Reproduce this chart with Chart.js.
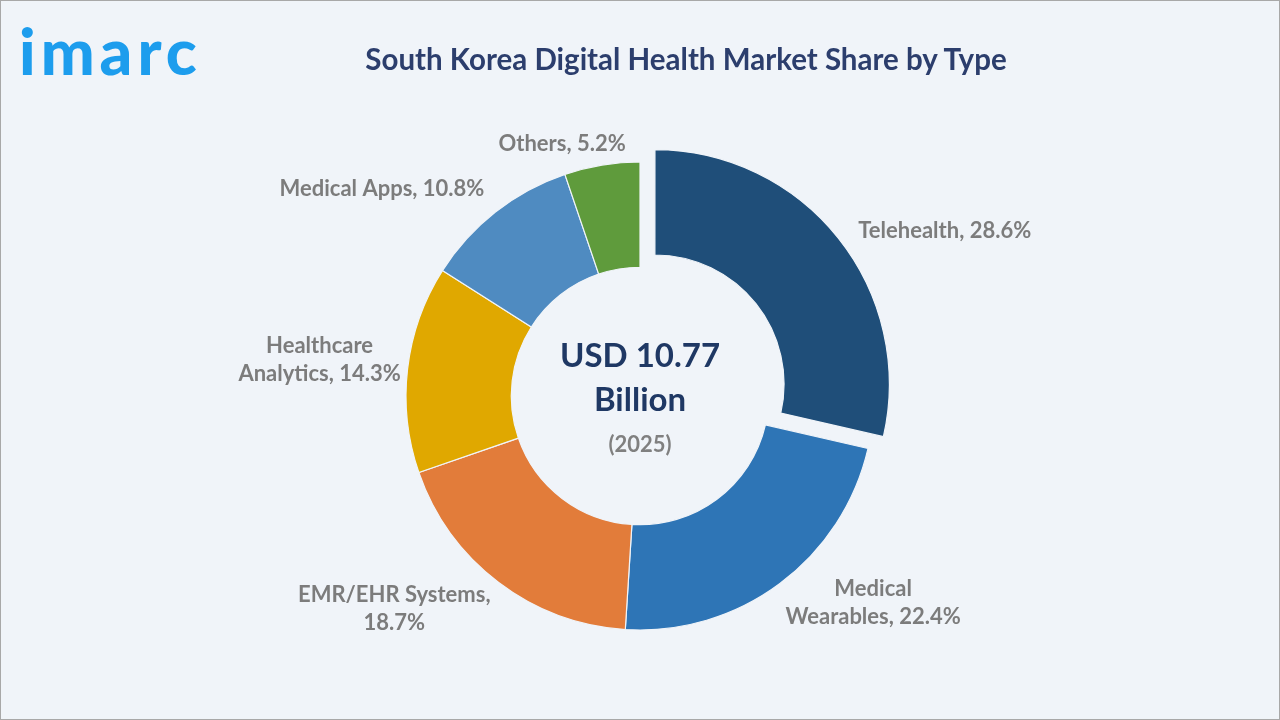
<!DOCTYPE html>
<html>
<head>
<meta charset="utf-8">
<script src="https://cdn.jsdelivr.net/npm/chart.js@4.4.1/dist/chart.umd.min.js"></script>
<style>
  html, body { margin:0; padding:0; width:1280px; height:720px; overflow:hidden; background:#f0f4f9; }
  #c { position:absolute; left:0; top:0; }
  #frame { position:absolute; left:0; top:0; width:1280px; height:720px; box-sizing:border-box; border:1px solid #a8a8a8; pointer-events:none; }
  #logo { position:absolute; left:19px; top:19px; font-family:Lato, "Open Sans", sans-serif; font-weight:900; font-size:64px; line-height:63px; letter-spacing:5px; color:#1d9ded; }
  #title { position:absolute; left:686px; top:42px; transform:translateX(-50%); white-space:nowrap; font-family:Lato, "Open Sans", sans-serif; font-weight:700; font-size:29.5px; line-height:34px; color:#2c3e6d; }
</style>
</head>
<body>
<canvas id="c" width="1280" height="720"></canvas>
<div id="logo">imarc</div>
<div id="title">South Korea Digital Health Market Share by Type</div>
<div id="frame"></div>
<script>
// ---- data ----
const categories = ["Telehealth", "Medical Wearables", "EMR/EHR Systems", "Healthcare Analytics", "Medical Apps", "Others"];
const shares = [28.6, 22.4, 18.7, 14.3, 10.8, 5.2];
const sliceColors = ["#1f4e79", "#2e75b6", "#e27c3a", "#e0a800", "#4f8bc1", "#5f9b3c"];
const explode = [76, 0, 0, 0, 0, 0];          // Chart.js arc offset (px*4)
const wrapAfterWords = [0, 1, 2, 1, 0, 0];     // line break position in label (0 = none)
const centerText = ["USD 10.77", "Billion", "(2025)"];

// ---- label styling ----
const labelGap = 26;
const labelNudge = [[0, 9], [-10, -2], [8, 6], [19, -6], [5, -3], [28, 4]];
const labelFont = "700 22px Lato, 'Open Sans', sans-serif";
const labelColor = "#7c7c7c";
const labelLineH = 28;

function labelLines(i) {
  const text = categories[i] + ", " + shares[i].toFixed(1) + "%";
  const n = wrapAfterWords[i];
  if (!n) return [text];
  const w = text.split(" ");
  return [w.slice(0, n).join(" "), w.slice(n).join(" ")];
}

const labelsPlugin = {
  id: "sliceLabels",
  afterDatasetsDraw(chart) {
    const ctx = chart.ctx;
    const meta = chart.getDatasetMeta(0);
    ctx.save();
    ctx.font = labelFont;
    ctx.fillStyle = labelColor;
    ctx.textBaseline = "middle";
    ctx.textAlign = "center";
    meta.data.forEach((arc, i) => {
      const mid = (arc.startAngle + arc.endAngle) / 2;
      const off = (arc.options.offset || 0) / 4;
      const cx = arc.x + Math.cos(mid) * off;
      const cy = arc.y + Math.sin(mid) * off;
      const r = arc.outerRadius + labelGap;
      const ax = cx + Math.cos(mid) * r + labelNudge[i][0];
      const ay = cy + Math.sin(mid) * r + labelNudge[i][1];
      const lines = labelLines(i);
      const bw = Math.max(...lines.map(l => ctx.measureText(l).width));
      const dx = Math.cos(mid);
      const bx = dx > 0.2 ? ax + bw / 2 : ax - bw / 2;
      const top = ay - (lines.length - 1) * labelLineH / 2;
      lines.forEach((l, k) => ctx.fillText(l, bx, top + k * labelLineH));
    });
    ctx.restore();
  }
};

const centerPlugin = {
  id: "centerText",
  afterDatasetsDraw(chart) {
    const ctx = chart.ctx;
    const a = chart.chartArea;
    const x = (a.left + a.right) / 2, y = (a.top + a.bottom) / 2;
    ctx.save();
    ctx.textAlign = "center";
    ctx.textBaseline = "middle";
    ctx.fillStyle = "#1f3864";
    ctx.font = "700 33px Lato, 'Open Sans', sans-serif";
    ctx.fillText(centerText[0], x, y - 40);
    ctx.fillText(centerText[1], x, y + 4);
    ctx.fillStyle = "#808080";
    ctx.font = "700 22px Lato, 'Open Sans', sans-serif";
    ctx.fillText(centerText[2], x, y + 49);
    ctx.restore();
  }
};

new Chart(document.getElementById("c"), {
  type: "doughnut",
  data: {
    labels: categories,
    datasets: [{
      data: shares,
      backgroundColor: sliceColors,
      borderColor: "#f0f4f9",
      borderWidth: 1.2,
      offset: explode,
      hoverOffset: 0
    }]
  },
  options: {
    responsive: false,
    devicePixelRatio: 1,
    animation: false,
    events: [],
    radius: 234,
    cutout: "55%",
    rotation: 0,
    layout: { padding: { top: 100, bottom: 28, left: 0, right: 0 } },
    plugins: { legend: { display: false }, tooltip: { enabled: false }, title: { display: false } }
  },
  plugins: [labelsPlugin, centerPlugin]
});
</script>
</body>
</html>
